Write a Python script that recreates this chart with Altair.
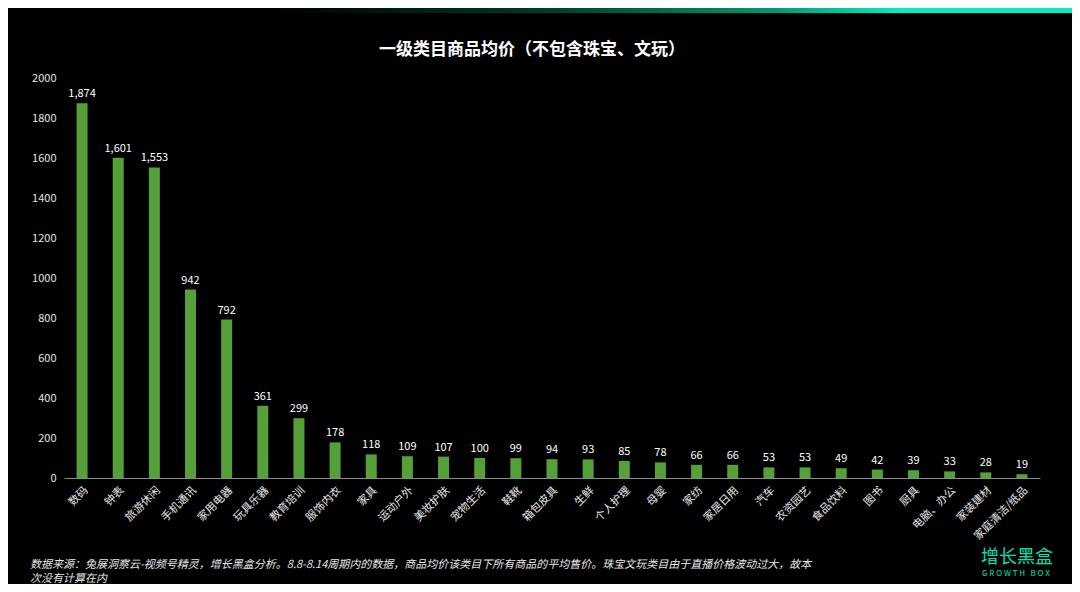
import altair as alt
import pandas as pd

categories = ["数码", "钟表", "旅游休闲", "手机通讯", "家用电器", "玩具乐器", "教育培训", "服饰内衣",
              "家具", "运动户外", "美妆护肤", "宠物生活", "鞋靴", "箱包皮具", "生鲜", "个人护理",
              "母婴", "家纺", "家居日用", "汽车", "农资园艺", "食品饮料", "图书", "厨具",
              "电脑、办公", "家装建材", "家庭清洁/纸品"]
values = [1874, 1601, 1553, 942, 792, 361, 299, 178, 118, 109, 107, 100, 99, 94, 93, 85,
          78, 66, 66, 53, 53, 49, 42, 39, 33, 28, 19]
y_ticks = list(range(0, 2001, 200))

title_text = "一级类目商品均价（不包含珠宝、文玩）"
note_lines = ["数据来源：兔展洞察云-视频号精灵，增长黑盒分析。8.8-8.14周期内的数据，商品均价该类目下所有商品的平均售价。珠宝文玩类目由于直播价格波动过大，故本",
              "次没有计算在内"]

FONT = "Noto Sans CJK SC"
df = pd.DataFrame({"cat": categories, "val": values})

x_enc = alt.X("cat:N", sort=categories, title=None,
              scale=alt.Scale(paddingInner=0.7, paddingOuter=0.35),
              axis=alt.Axis(labelAngle=-45, labelColor="#e6e6e6", labelFontSize=11,
                            labelFont=FONT, ticks=False, domainColor="#8c8c8c",
                            labelPadding=6))
y_enc = alt.Y("val:Q", title=None,
              scale=alt.Scale(domain=[0, 2000], nice=False),
              axis=alt.Axis(values=y_ticks, format="d", labelOverlap=False, grid=False,
                            ticks=False, domain=False, labelBound=False, tickCount=11,
                            labelColor="#e6e6e6", labelFontSize=11, labelFont=FONT,
                            labelPadding=8))

bars = alt.Chart(df).mark_bar(color="#56a03a", size=11).encode(x=x_enc, y=y_enc)
labels = alt.Chart(df).mark_text(dy=-9, color="#ffffff", fontSize=11, font=FONT).encode(
    x=x_enc, y=y_enc, text=alt.Text("val:Q", format=","))

one = alt.Data(values=[{"a": 1}])

top_bar = alt.Chart(one).mark_rect(
    color=alt.Gradient(gradient="linear", x1=0, x2=1, y1=0, y2=0,
                       stops=[alt.GradientStop(offset=0, color="#000000"),
                              alt.GradientStop(offset=0.25, color="#000000"),
                              alt.GradientStop(offset=0.5, color="#003a2a"),
                              alt.GradientStop(offset=0.72, color="#009a70"),
                              alt.GradientStop(offset=0.84, color="#00f0c0"),
                              alt.GradientStop(offset=1, color="#00f0c0")])
).encode(x=alt.value(-56), x2=alt.value(1008), y=alt.value(-70), y2=alt.value(-65))

title = alt.Chart(one).mark_text(text=title_text, color="#ffffff", fontSize=17,
                                 fontWeight="bold", font=FONT, align="center",
                                 baseline="middle").encode(x=alt.value(468), y=alt.value(-28))

note = alt.Chart(one).mark_text(text=note_lines, color="#e6e6e6", fontSize=11,
                                fontStyle="italic", font=FONT, align="left",
                                baseline="middle", lineHeight=14).encode(
    x=alt.value(-34), y=alt.value(487))

logo_cn = alt.Chart(one).mark_text(text="增长黑盒", color="#00e0b0", fontSize=18,
                                   font=FONT, align="left", baseline="middle").encode(
    x=alt.value(917), y=alt.value(480))
logo_en = alt.Chart(one).mark_text(text="G\u00a0R\u00a0O\u00a0W\u00a0T\u00a0H\u00a0\u00a0\u00a0B\u00a0O\u00a0X",
                                   color="#00e0b0", fontSize=8,
                                   font=FONT, align="left", baseline="middle").encode(
    x=alt.value(918), y=alt.value(496))

chart = alt.layer(top_bar, bars, labels, title, note, logo_cn, logo_en).properties(
    width=976, height=400,
    autosize=alt.AutoSizeParams(type="none"),
    padding={"left": 56, "top": 70, "right": 32, "bottom": 106},
    background="#000000",
).configure_view(strokeWidth=0)

chart.save("out.html", embed_options={"renderer": "svg", "actions": False})
